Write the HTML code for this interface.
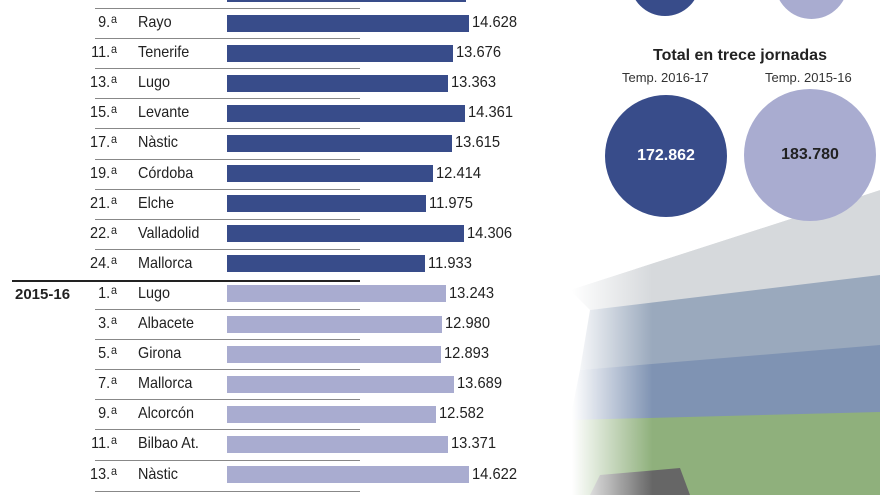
<!DOCTYPE html>
<html><head><meta charset="utf-8"><style>
body{margin:0;width:880px;height:495px;overflow:hidden;background:#fff;font-family:"Liberation Sans",sans-serif;position:relative}
.a{position:absolute}
.r{position:absolute;font-size:16px;line-height:20px;color:#222;transform:scaleX(.9);transform-origin:left}
.n{position:absolute;font-size:16px;line-height:20px;color:#222;text-align:right;width:44px;transform:scaleX(.9);transform-origin:right;white-space:nowrap}
.n span{font-size:12px;position:relative;top:-4px;margin-left:1px}
.sep{position:absolute;left:95px;width:265px;height:1px;background:#888}
.bar{position:absolute;left:227px;height:17px}
.v{position:absolute;font-size:16px;line-height:20px;color:#222;transform:scaleX(.92);transform-origin:left}
</style></head><body>
<svg class="a" style="left:530px;top:180px" width="350" height="315">
<defs>
<linearGradient id="f" x1="0" x2="1"><stop offset="0" stop-color="#fff"/><stop offset=".12" stop-color="#fff"/><stop offset=".35" stop-color="#fff" stop-opacity="0"/></linearGradient>
</defs>
<polygon points="40,110 350,10 350,100 60,130" fill="#d6d9dc"/>
<polygon points="60,130 350,95 350,170 50,190" fill="#9aa9bd"/>
<polygon points="50,190 350,165 350,240 40,240" fill="#7f93b3"/>
<polygon points="40,240 350,232 350,315 30,315" fill="#8fb07c"/>
<polygon points="70,295 150,288 160,315 60,315" fill="#666"/>
<rect x="0" y="0" width="350" height="315" fill="url(#f)"/>
<polygon points="0,0 350,0 350,10 40,110 0,150" fill="#fff"/>
</svg>
<div class="a" style="left:630px;top:-54px;width:70px;height:70px;border-radius:50%;background:#384c8a"></div>
<div class="a" style="left:775px;top:-54px;width:73px;height:73px;border-radius:50%;background:#a9acd0"></div>
<div class="a" style="top:47px;left:600px;width:280px;text-align:center;font-weight:bold;font-size:16px;color:#222">Total en trece jornadas</div>
<div class="a" style="left:622px;top:70px;font-size:13px;color:#333">Temp. 2016-17</div>
<div class="a" style="left:765px;top:70px;font-size:13px;color:#333">Temp. 2015-16</div>
<div class="a" style="left:605px;top:95px;width:122px;height:122px;border-radius:50%;background:#384c8a;color:#fff;font-weight:bold;font-size:16px;line-height:122px;text-align:center">172.862</div>
<div class="a" style="left:744px;top:89px;width:132px;height:132px;border-radius:50%;background:#a9acd0;color:#222;font-weight:bold;font-size:16px;line-height:132px;text-align:center">183.780</div>
<div class="bar" style="top:-15px;width:239px;background:#384c8a"></div>
<div class="a" style="left:12px;top:280px;width:348px;height:2px;background:#222"></div>
<div class="a" style="left:15px;top:286px;font-weight:bold;font-size:15px;color:#222">2015-16</div>
<div id="rows"></div>
<script>
var d=[["9","Rayo",14628,1],["11","Tenerife",13676,1],["13","Lugo",13363,1],["15","Levante",14361,1],["17","Nàstic",13615,1],["19","Córdoba",12414,1],["21","Elche",11975,1],["22","Valladolid",14306,1],["24","Mallorca",11933,1],["1","Lugo",13243,0],["3","Albacete",12980,0],["5","Girona",12893,0],["7","Mallorca",13689,0],["9","Alcorcón",12582,0],["11","Bilbao At.",13371,0],["13","Nàstic",14622,0]];
var h="";
d.forEach(function(r,i){var c=23+i*30.1;var e=425+(r[2]-11933)*0.01633;var w=e-227;
if(i!=9)h+='<div class="sep" style="top:'+Math.round(c-15)+'px"></div>';
h+='<div class="n" style="left:73px;top:'+(c-10)+'px">'+r[0]+'.<span>a</span></div>';
h+='<div class="r" style="left:138px;top:'+(c-10)+'px">'+r[1]+'</div>';
h+='<div class="bar" style="top:'+(c-8.5)+'px;width:'+w+'px;background:'+(r[3]?'#384c8a':'#a9acd0')+'"></div>';
var s=String(r[2]);s=s.slice(0,2)+'.'+s.slice(2);
h+='<div class="v" style="left:'+(e+3)+'px;top:'+(c-10)+'px">'+s+'</div>';});
h+='<div class="sep" style="top:491px"></div>';
document.getElementById("rows").innerHTML=h;
</script>
</body></html>
